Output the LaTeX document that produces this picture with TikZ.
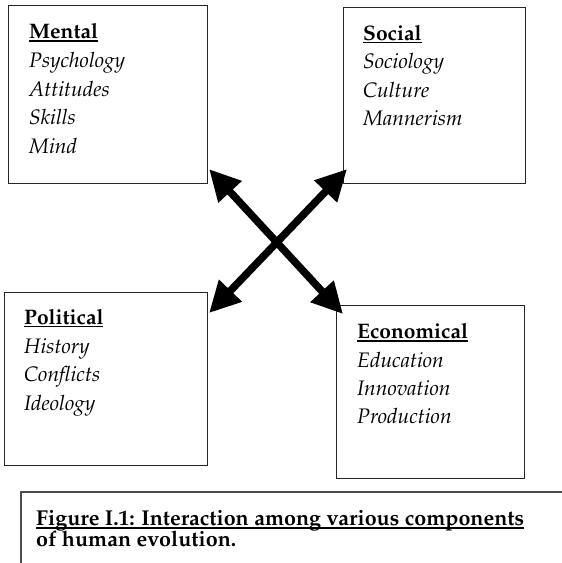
\documentclass[tikz,border=0pt]{standalone}
\usepackage[T1]{fontenc}
\usepackage{mathpazo}
\usetikzlibrary{arrows.meta,calc}
\newcommand\hul[1]{\setbox0\hbox{#1}\rlap{\rule[-3.2pt]{\wd0}{1.3pt}}\box0}
\newcommand\cul[1]{\setbox0\hbox{#1}\rlap{\rule[-3.5pt]{\wd0}{1.5pt}}\box0}
\begin{document}
\begin{tikzpicture}[x=1pt,y=-1pt,
  box/.style={draw=black!85,line width=1.1pt,inner sep=0,anchor=north west},
  head/.style={font=\fontsize{21}{25}\selectfont\bfseries,anchor=base west,inner sep=0},
  item/.style={font=\fontsize{21}{25}\selectfont\itshape,anchor=base west,inner sep=0},
  capt/.style={font=\fontsize{21.5}{25}\selectfont\bfseries,anchor=base west,inner sep=0},
  bigarrow/.style={line width=7.5pt,{Triangle[length=31pt,width=30pt]}-{Triangle[length=31pt,width=30pt]}},
  rulel/.style={draw=black!70,line width=1.5pt}]
\useasboundingbox (0,0) rectangle (562,563);
% boxes
\node[box,minimum width=199pt,minimum height=178pt] (mental) at (8,5) {};
\node[box,minimum width=182pt,minimum height=176pt] (social) at (343,7) {};
\node[box,minimum width=203pt,minimum height=173pt] (political) at (4,292) {};
\node[box,minimum width=188pt,minimum height=173pt] (economical) at (336,305) {};
% texts
\node[head] (m0) at (29,38.5) {\hul{Mental}};
\node[item] (m1) at (29,67) {Psychology};
\node[item] (m2) at (29,96) {Attitudes};
\node[item] (m3) at (29,124.5) {Skills};
\node[item] (m4) at (29,153) {Mind};
\node[head] (s0) at (363,40) {\hul{Social}};
\node[item] (s1) at (363,68.5) {Sociology};
\node[item] (s2) at (363,97) {Culture};
\node[item] (s3) at (363,125.5) {Mannerism};
\node[head] (p0) at (24,324) {\hul{Political}};
\node[item] (p1) at (24,353) {History};
\node[item] (p2) at (24,381.5) {Conflicts};
\node[item] (p3) at (24,410) {Ideology};
\node[head] (e0) at (357,338.5) {\hul{Economical}};
\node[item] (e1) at (357,367) {Education};
\node[item] (e2) at (357,395) {Innovation};
\node[item] (e3) at (357,423) {Production};
% arrows
\coordinate (tl) at ($(mental.south east)+(1,-15)$);
\coordinate (tr) at ($(social.south west)+(4,-15)$);
\coordinate (bl) at ($(political.north east)+(1,21)$);
\coordinate (br) at ($(economical.north west)+(7,9)$);
\draw[bigarrow] (tl) -- (br);
\draw[bigarrow] (tr) -- (bl);
% caption frame
\coordinate (c0) at (21,492);
\coordinate (c1) at (562,492);
\coordinate (c2) at (21,563);
\draw[rulel] (c1) -- (c0) -- (c2);
\node[capt] (cap1) at (36,525) {\cul{Figure I.1: Interaction among various components}};
\node[capt] (cap2) at (36,546) {of human evolution.};
\end{tikzpicture}
\end{document}
